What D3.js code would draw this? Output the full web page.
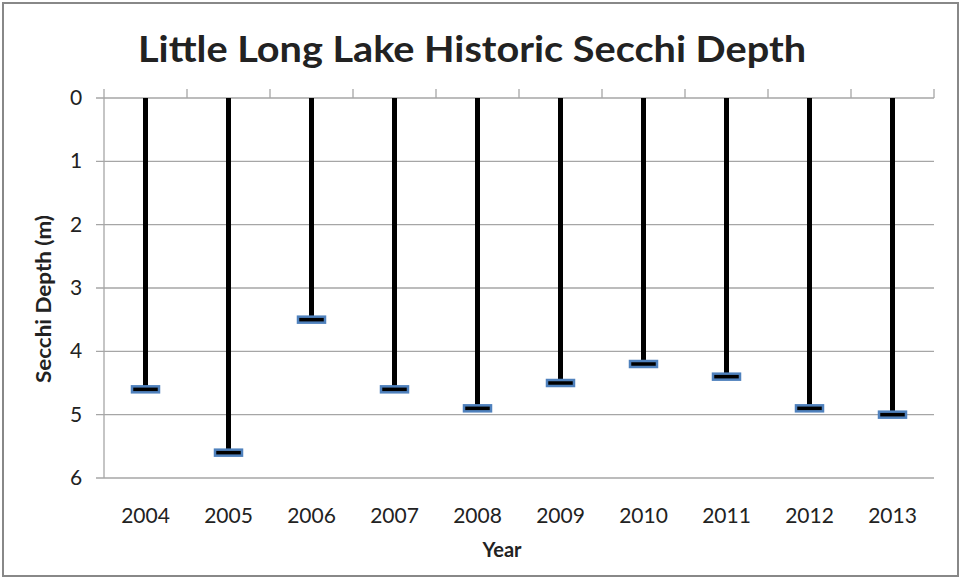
<!DOCTYPE html>
<html>
<head>
<meta charset="utf-8">
<style>
  body { margin: 0; background: #fff; }
  text { font-family: Lato, "Open Sans", sans-serif; fill: #222; }
</style>
</head>
<body>
<svg id="chart" width="961" height="579"></svg>
<script src="https://d3js.org/d3.v7.min.js"></script>
<script>
  // data
  let years = ['2004', '2005', '2006', '2007', '2008', '2009', '2010', '2011', '2012', '2013']
  let depths = [4.6, 5.6, 3.5, 4.6, 4.9, 4.5, 4.2, 4.4, 4.9, 5.0]
  let depthTicks = [0, 1, 2, 3, 4, 5, 6]

  let svg = d3.select('#chart')

  // outer frame
  svg.append('rect')
    .attr('x', 3).attr('y', 3)
    .attr('width', 955).attr('height', 573)
    .attr('fill', 'white')
    .attr('stroke', '#888').attr('stroke-width', 2)

  let plotL = 104, plotR = 934, plotT = 98, plotB = 478

  let x = d3.scaleBand().domain(years).range([plotL, plotR])
  let y = d3.scaleLinear().domain([0, 6]).range([plotT, plotB])

  // gridlines + y ticks
  svg.append('g').selectAll('line')
    .data(depthTicks)
    .join('line')
    .attr('x1', plotL - 8).attr('x2', plotR)
    .attr('y1', d => y(d)).attr('y2', d => y(d))
    .attr('stroke', '#a6a6a6').attr('stroke-width', 1.3)

  svg.append('g').selectAll('text')
    .data(depthTicks)
    .join('text')
    .attr('x', 76).attr('y', d => y(d) + 7)
    .attr('text-anchor', 'middle')
    .attr('font-size', 21)
    .text(d => d)

  // y axis line
  svg.append('line')
    .attr('x1', plotL).attr('x2', plotL)
    .attr('y1', plotT).attr('y2', plotB)
    .attr('stroke', '#a6a6a6').attr('stroke-width', 1.3)

  // category ticks (axis sits at depth 0, at the top)
  let tickPos = years.map(d => x(d)).concat([plotR])
  svg.append('g').selectAll('line')
    .data(tickPos)
    .join('line')
    .attr('x1', d => d).attr('x2', d => d)
    .attr('y1', plotT - 9).attr('y2', plotT)
    .attr('stroke', '#a6a6a6').attr('stroke-width', 1.3)

  // year labels
  svg.append('g').selectAll('text')
    .data(years)
    .join('text')
    .attr('x', d => x(d) + x.bandwidth() / 2)
    .attr('y', 523)
    .attr('text-anchor', 'middle')
    .attr('font-size', 21)
    .text(d => d)

  // drop lines
  svg.append('g').selectAll('line')
    .data(depths)
    .join('line')
    .attr('x1', (d, i) => x(years[i]) + x.bandwidth() / 2)
    .attr('x2', (d, i) => x(years[i]) + x.bandwidth() / 2)
    .attr('y1', y(0)).attr('y2', d => y(d))
    .attr('stroke', 'black').attr('stroke-width', 5)

  // dash markers
  svg.append('g').selectAll('rect')
    .data(depths)
    .join('rect')
    .attr('x', (d, i) => x(years[i]) + x.bandwidth() / 2 - 13.5)
    .attr('y', d => y(d) - 3)
    .attr('width', 27).attr('height', 6)
    .attr('fill', 'black')
    .attr('stroke', '#4f81bd').attr('stroke-width', 2.5)

  // titles
  svg.append('text')
    .attr('x', 472).attr('y', 62)
    .attr('text-anchor', 'middle')
    .attr('font-size', 36).attr('font-weight', 'bold')
    .attr('textLength', 668).attr('lengthAdjust', 'spacingAndGlyphs')
    .text('Little Long Lake Historic Secchi Depth')

  svg.append('text')
    .attr('x', 502).attr('y', 557)
    .attr('text-anchor', 'middle')
    .attr('font-size', 20).attr('font-weight', 'bold')
    .text('Year')

  svg.append('text')
    .attr('transform', 'translate(51,299) rotate(-90)')
    .attr('text-anchor', 'middle')
    .attr('font-size', 20).attr('font-weight', 'bold')
    .attr('textLength', 168).attr('lengthAdjust', 'spacingAndGlyphs')
    .text('Secchi Depth (m)')
</script>
</body>
</html>
